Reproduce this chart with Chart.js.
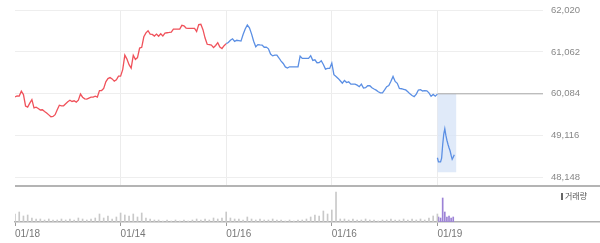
<!DOCTYPE html>
<html><head><meta charset="utf-8">
<script src="https://cdn.jsdelivr.net/npm/chart.js@4"></script>
<style>
html,body{margin:0;padding:0;background:#fff;width:600px;height:243px;overflow:hidden;position:relative}
#top{position:absolute;left:0;top:0;z-index:2}
#bot{position:absolute;left:0;top:188px;z-index:1}
#sep{position:absolute;left:15px;top:185px;width:585px;height:2px;background:#b4b4b4;z-index:3}
#leg{position:absolute;left:561px;top:191px;font-size:8px;color:#555;font-family:'Noto Sans CJK KR',sans-serif;line-height:10px;white-space:nowrap;z-index:4}
#leg i{display:inline-block;width:2px;height:7px;background:#666;margin-right:2px;vertical-align:-1px}
</style></head><body>
<canvas id="top" width="600" height="192"></canvas>
<div id="sep"></div>
<canvas id="bot" width="600" height="55"></canvas>
<div id="leg"><i></i>거래량</div>
<script>
const dateLabels = ['01/18','01/14','01/16','01/16','01/19'];
const tickValues = [58148,59116,60084,61052,62020];
const tickLabels = ['48,148','49,116','60,084','61,062','62,020'];
const prevClose = 60084;
const mainPrices = [
60013,60034,60032,60145,60067,59803,59775,59868,59949,59759,
59775,59745,59710,59715,59675,59641,59597,59553,59560,59601,
59715,59821,59807,59807,59854,59900,59937,59907,59923,59893,
59937,60078,60006,59969,59962,59986,60006,60009,60030,60009,
60157,60159,60208,60360,60435,60458,60428,60377,60409,60492,
60492,60643,60978,60886,60758,60677,60974,60879,60920,61140,
61159,61402,61492,61541,61464,61457,61418,61464,61413,61471,
61418,61487,61494,61501,61510,61580,61580,61580,61580,61666,
61654,61603,61596,61596,61596,61596,61524,61682,61691,61566,
61372,61228,61219,61210,61152,61200,61265,61166,61131,61196,
61244,61268,61321,61355,61295,61321,61311,61302,61453,61580,
61672,61608,61469,61298,61170,61221,61214,61210,61159,61163,
61124,61001,60960,60978,60978,60911,60840,60784,60705,60680,
60708,60708,60708,60708,60708,60955,60902,60902,60902,60902,
60964,60856,60870,60802,60804,60849,60761,60654,60673,60671,
60793,60527,60485,60439,60386,60328,60393,60344,60360,60307,
60307,60307,60284,60249,60307,60215,60226,60270,60270,60222,
60194,60168,60131,60106,60106,60173,60249,60275,60372,60485,
60370,60326,60208,60201,60187,60173,60131,60083,60046,60018,
60078,60171,60180,60150,60159,60154,60106,60027,60069,60030,
60076];
const lastDayPrices = [58606,58509,58509,58509,58595,58907,59150,59277,59127,59011,58919,58838,58768,58664,58572,58618,58676];
const mainVolumes = [
80,100,60,70,40,30,30,20,30,20, 20,30,20,30,20,40,30,20,30,40,
80,40,60,30,50,90,70,60,80,50, 90,40,30,20,20,10,20,10,20,10,
20,10,20,30,20,30,20,40,30,40, 100,40,30,30,20,50,30,20,30,20,
20,30,20,20,10,20,10,20,20,30, 50,70,60,110,80,120,300,30,30,20,
30,20,20,30,20,20,10,20,20,30, 20,20,30,20,30,20,30,20,40,60,
80];
const lastDayVolumes = [50,40,240,100,50,60,40,50];

// time axis: 100 slots per date gridline
const SLOTS_PER_DATE = 100;
const PRICE_STEP = 2, LAST_START = 400, VOL_STEP = 4;
const mainPts = mainPrices.map((v,i)=>({x:i*PRICE_STEP,y:v}));
const splitIdx = 100;
const redPts = mainPts.slice(0, splitIdx+1);
const bluePts = mainPts.slice(splitIdx);
const lastPts = lastDayPrices.map((v,j)=>({x:LAST_START+j,y:v}));
const volPts = mainVolumes.map((v,j)=>({x:j*VOL_STEP,y:v}));
const lastVolPts = lastDayVolumes.map((v,j)=>({x:LAST_START+1+j*2,y:v}));

const RED='#f0525b', BLUE='#5b8fe4';
const font = {family:"'Liberation Sans', Arial, sans-serif", size:9.5};

new Chart(document.getElementById('top'), {
  type:'line',
  data:{datasets:[
    {data:redPts, borderColor:RED, borderWidth:1.3, pointRadius:0, tension:0},
    {data:bluePts, borderColor:BLUE, borderWidth:1.3, pointRadius:0, tension:0},
    {data:lastPts, borderColor:BLUE, borderWidth:1.3, pointRadius:0, tension:0},
    {data:[{x:LAST_START,y:prevClose},{x:5*SLOTS_PER_DATE,y:prevClose}], borderColor:'#a8a8a8', borderWidth:1, pointRadius:0},
    {data:[{x:LAST_START,y:prevClose},{x:LAST_START+lastDayPrices.length+1,y:prevClose}], borderWidth:0, pointRadius:0, fill:{value:58270}, backgroundColor:'rgba(214,227,247,0.75)'}
  ]},
  options:{
    responsive:false, animation:false,
    layout:{padding:{left:15,top:10,right:0,bottom:0}},
    plugins:{legend:{display:false}, tooltip:{enabled:false}},
    scales:{
      x:{type:'linear', min:0, max:5*SLOTS_PER_DATE,
        afterBuildTicks:(s)=>{s.ticks=[1,2,3,4].map(i=>({value:i*SLOTS_PER_DATE}));},
        ticks:{display:false}, grid:{color:'#ececec', drawTicks:false}, border:{display:false},
        afterFit:(s)=>{s.height=0;}},
      y:{type:'linear', position:'right', min:57947, max:62020,
        afterBuildTicks:(s)=>{s.ticks=tickValues.map(v=>({value:v}));},
        ticks:{padding:0, color:'#888', font:font, callback:(v)=>tickLabels[tickValues.indexOf(v)]},
        grid:{color:'#eeeeee', drawTicks:true, tickLength:8, tickColor:'rgba(0,0,0,0)'}, border:{display:false},
        afterFit:(s)=>{s.width=57;}}
    }
  }
});

new Chart(document.getElementById('bot'), {
  type:'bar',
  data:{datasets:[
    {data:volPts, backgroundColor:'#c9c9c9', barThickness:1, grouped:false},
    {data:lastVolPts, backgroundColor:'#9c82d6', barThickness:1, grouped:false}
  ]},
  options:{
    responsive:false, animation:false,
    layout:{padding:{left:15,top:0,right:0,bottom:0}},
    plugins:{legend:{display:false}, tooltip:{enabled:false}},
    scales:{
      x:{type:'linear', min:0, max:585/(528/500), offset:false,
        afterBuildTicks:(s)=>{s.ticks=dateLabels.map((d,i)=>({value:i*SLOTS_PER_DATE}));},
        ticks:{align:'start', autoSkip:false, maxRotation:0, padding:2, color:'#777', font:{family:font.family,size:10},
          callback:(v)=>dateLabels[Math.round(v/SLOTS_PER_DATE)]},
        grid:{drawOnChartArea:false, offset:false, tickLength:4, tickColor:'#999'},
        border:{color:'#b0b0b0', width:1.5},
        afterFit:(s)=>{s.height=21;}},
      y:{display:false, min:0, max:340}
    }
  }
});
</script>
</body></html>
